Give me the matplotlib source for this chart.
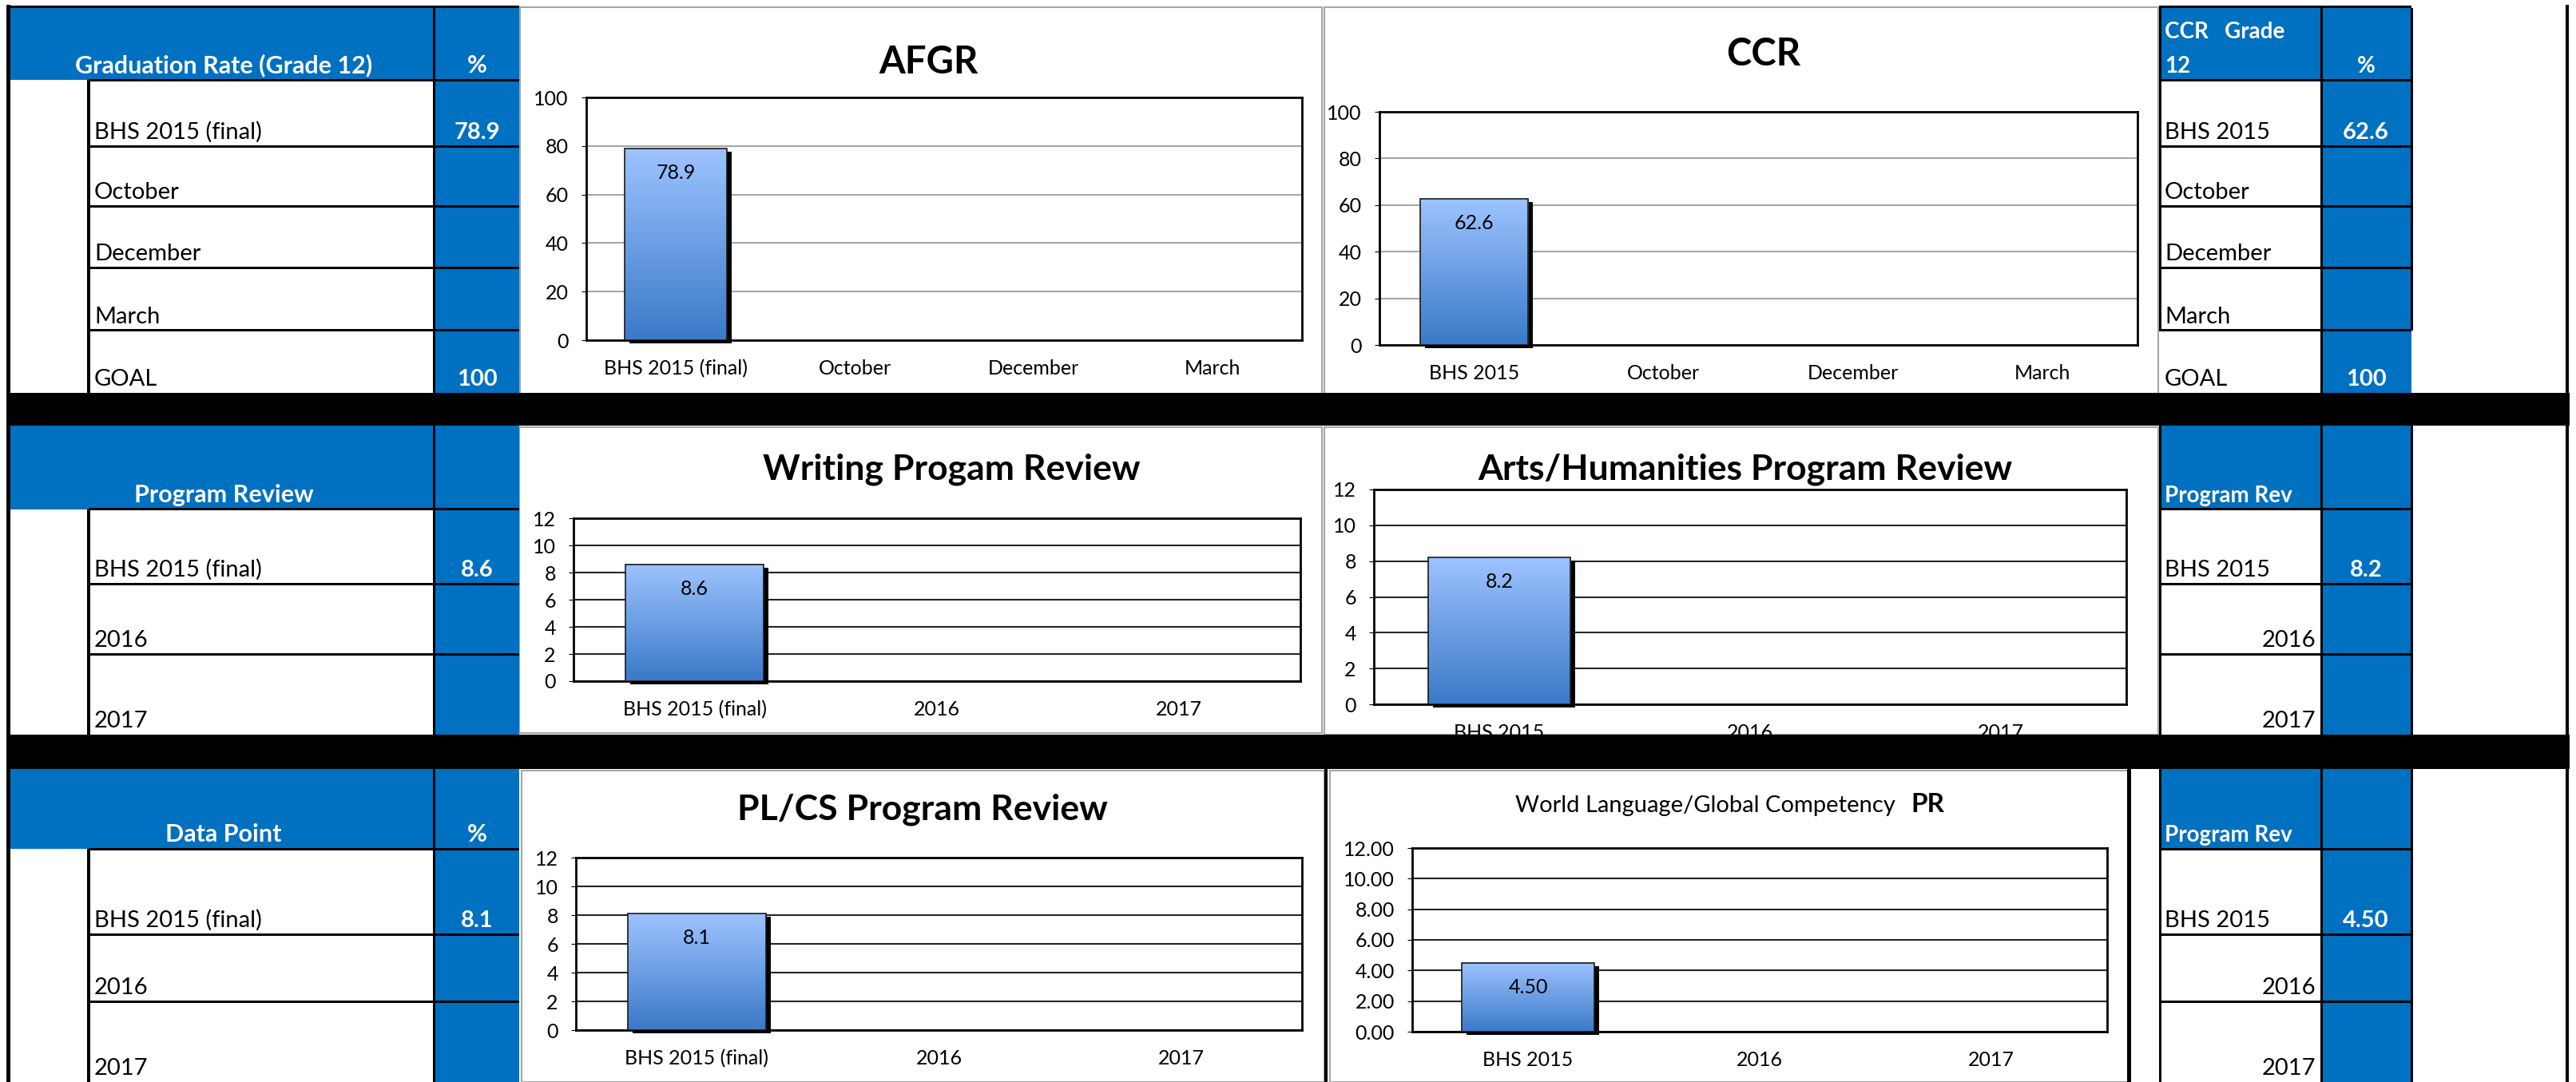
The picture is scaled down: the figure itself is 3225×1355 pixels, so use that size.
import matplotlib.pyplot as plt
import numpy as np
import matplotlib.transforms as mtransforms
from matplotlib.patches import Rectangle
from matplotlib.colors import LinearSegmentedColormap
from matplotlib.ticker import FormatStrFormatter

plt.rcParams['font.family'] = ['Lato', 'DejaVu Sans']

# values
afgr_cats = ['BHS 2015 (final)', 'October', 'December', 'March']
afgr_vals = [78.9]
ccr_cats = ['BHS 2015', 'October', 'December', 'March']
ccr_vals = [62.6]
writing_cats = ['BHS 2015 (final)', '2016', '2017']
writing_vals = [8.6]
arts_cats = ['BHS 2015', '2016', '2017']
arts_vals = [8.2]
plcs_cats = ['BHS 2015 (final)', '2016', '2017']
plcs_vals = [8.1]
wl_cats = ['BHS 2015', '2016', '2017']
wl_vals = [4.50]
goal = 100

W, H = 3225, 1355
BLUE = '#0070C0'
fig = plt.figure(figsize=(W / 100, H / 100), dpi=100)


def rect(x0, y0, x1, y1, color, z=1):
    fig.add_artist(Rectangle((x0 / W, 1 - y1 / H), (x1 - x0) / W, (y1 - y0) / H,
                             transform=fig.transFigure, facecolor=color,
                             edgecolor='none', zorder=z))


def frame(x0, y0, x1, y1, color='#A6A6A6', lw=1.5, z=-1):
    fig.add_artist(Rectangle((x0 / W, 1 - y1 / H), (x1 - x0) / W, (y1 - y0) / H,
                             transform=fig.transFigure, facecolor='white',
                             edgecolor=color, linewidth=lw, zorder=z))


def hl(y, x0, x1, lw=3):
    rect(x0, y - lw / 2, x1, y + lw / 2, 'black', 3)


def vl(x, y0, y1, lw=3):
    rect(x - lw / 2, y0, x + lw / 2, y1, 'black', 3)


def txt(x, y, s, size=20, **kw):
    fig.text(x / W, 1 - y / H, s, fontsize=size, va='baseline', zorder=4, **kw)


# ---- side tables ----
sections = [(10, 100, [183, 258, 335, 414, 492]),
            (533, 638, [731, 819, 920]),
            (963, 1063, [1170, 1254, 1355])]

left_heads = [('Graduation Rate (Grade 12)', '%'), ('Program Review', ''), ('Data Point', '%')]
left_rows = [(afgr_cats + ['GOAL'], ['%.1f' % afgr_vals[0], '', '', '', str(goal)]),
             (writing_cats, ['%.1f' % writing_vals[0], '', '']),
             (plcs_cats, ['%.1f' % plcs_vals[0], '', ''])]
right_heads = [('CCR   Grade\n12', '%'), ('Program Rev', ''), ('Program Rev', '')]
right_rows = [(ccr_cats + ['GOAL'], ['%.1f' % ccr_vals[0], '', '', '', str(goal)]),
              (arts_cats, ['%.1f' % arts_vals[0], '', '']),
              (wl_cats, ['%.2f' % wl_vals[0], '', ''])]

for k, (top, hb, bottoms) in enumerate(sections):
    bot = bottoms[-1]
    # left table
    rect(13, top, 650, hb, BLUE)
    rect(545, hb, 650, bot, BLUE)
    vl(543, top, bot)
    vl(111, hb, bot)
    for y in [hb] + bottoms[:-1]:
        hl(y, 111, 650)
    head, pct = left_heads[k]
    txt(280, hb - 9, head, 22, color='white', weight='bold', ha='center')
    txt(597, hb - 9, pct, 22, color='white', weight='bold', ha='center')
    labels, vals = left_rows[k]
    for lab, val, yb in zip(labels, vals, bottoms):
        txt(118, yb - 9, lab, 21)
        txt(597, yb - 9, val, 21, color='white', weight='bold', ha='center')

    # right table
    rect(2703, top, 3019, hb, BLUE)
    rect(2906, hb, 3019, bot, BLUE)
    edge = 414 if k == 0 else bot
    vl(2704, top, edge)
    vl(2906, top, bot)
    vl(3019, top, edge)
    for y in [hb] + bottoms[:-1]:
        hl(y, 2703, 3019)
    head, pct = right_heads[k]
    if '\n' in head:
        l1, l2 = head.split('\n')
        txt(2710, hb - 52, l1, 20, color='white', weight='bold')
        txt(2710, hb - 9, l2, 20, color='white', weight='bold')
    else:
        txt(2710, hb - 9, head, 20, color='white', weight='bold')
    txt(2962, hb - 9, pct, 20, color='white', weight='bold', ha='center')
    labels, vals = right_rows[k]
    for lab, val, yb in zip(labels, vals, bottoms):
        if lab.isdigit():
            txt(2899, yb - 9, lab, 21, ha='right')
        else:
            txt(2710, yb - 9, lab, 21)
        txt(2962, yb - 9, val, 21, color='white', weight='bold', ha='center')

hl(8, 8, 650)
hl(8, 2703, 3019)
vl(10, 6, 1355, lw=5)
vl(3214, 6, 1355, lw=4)
rect(8, 492, 3217, 533, 'black', 5)
rect(8, 920, 3217, 963, 'black', 5)
vl(1660, 963, 1355, lw=4)
vl(2665, 963, 1355, lw=5)

# ---- charts ----
cmap = LinearSegmentedColormap.from_list('bar', ['#3A79C8', '#9DC3FF'])
grad = np.linspace(0, 1, 256).reshape(-1, 1)
shift = mtransforms.ScaledTranslation(0.06, -0.04, fig.dpi_scale_trans)


def bar_chart(box, plot, cats, vals, ymax, step, grid_color, tfmt, lfmt):
    frame(*box)
    x0, y0, x1, y1 = plot
    ax = fig.add_axes([x0 / W, 1 - y1 / H, (x1 - x0) / W, (y1 - y0) / H])
    x = np.arange(len(cats))
    bars = ax.bar(x[:len(vals)], vals, width=0.57, color='none',
                  edgecolor='#1a1a1a', linewidth=1.2, zorder=4)
    for b, v in zip(bars, vals):
        bx, bw = b.get_x(), b.get_width()
        ax.add_patch(Rectangle((bx, 0), bw, v, facecolor='black', zorder=2,
                               transform=ax.transData + shift, clip_on=False))
        ax.imshow(grad, extent=[bx, bx + bw, 0, v], origin='lower',
                  aspect='auto', cmap=cmap, zorder=3)
        ax.annotate(lfmt % v, (bx + bw / 2, v), xytext=(0, -22),
                    textcoords='offset points', ha='center', va='center', fontsize=18)
    ax.set_xlim(-0.5, len(cats) - 0.5)
    ax.set_ylim(0, ymax)
    ax.set_yticks(np.arange(0, ymax + step / 2, step))
    ax.yaxis.set_major_formatter(FormatStrFormatter(tfmt))
    ax.set_xticks(x, cats)
    ax.tick_params(axis='x', length=0, pad=17, labelsize=18)
    ax.tick_params(axis='y', length=4, pad=12, labelsize=18)
    ax.yaxis.grid(True, color=grid_color, lw=1.5)
    ax.set_axisbelow(True)
    for sp in ax.spines.values():
        sp.set_linewidth(2)
    return ax


bar_chart((651, 9, 1655, 493), (734, 122, 1630, 426), afgr_cats, afgr_vals,
          100, 20, '#A6A6A6', '%d', '%.1f')
txt(1162, 92, 'AFGR', 34, weight='bold', ha='center')

bar_chart((1658, 9, 2702, 493), (1727, 140, 2676, 432), ccr_cats, ccr_vals,
          100, 20, '#A6A6A6', '%d', '%.1f')
txt(2208, 82, 'CCR', 34, weight='bold', ha='center')

bar_chart((650, 535, 1655, 918), (718, 649, 1628, 853), writing_cats, writing_vals,
          12, 2, '#262626', '%d', '%.1f')
txt(1191, 600, 'Writing Progam Review', 32, weight='bold', ha='center')

bar_chart((1658, 535, 2702, 920), (1720, 613, 2662, 882), arts_cats, arts_vals,
          12, 2, '#262626', '%d', '%.1f')
txt(2185, 600, 'Arts/Humanities Program Review', 32, weight='bold', ha='center')

bar_chart((653, 965, 1658, 1355), (721, 1074, 1630, 1290), plcs_cats, plcs_vals,
          12, 2, '#262626', '%d', '%.1f')
txt(1155, 1027, 'PL/CS Program Review', 32, weight='bold', ha='center')

bar_chart((1665, 965, 2665, 1355), (1768, 1062, 2638, 1292), wl_cats, wl_vals,
          12, 2, '#262626', '%.2f', '%.2f')
txt(2373, 1017, 'World Language/Global Competency', 21, ha='right')
txt(2392, 1017, 'PR', 24, weight='bold')

fig.savefig('out.png', dpi=100)
